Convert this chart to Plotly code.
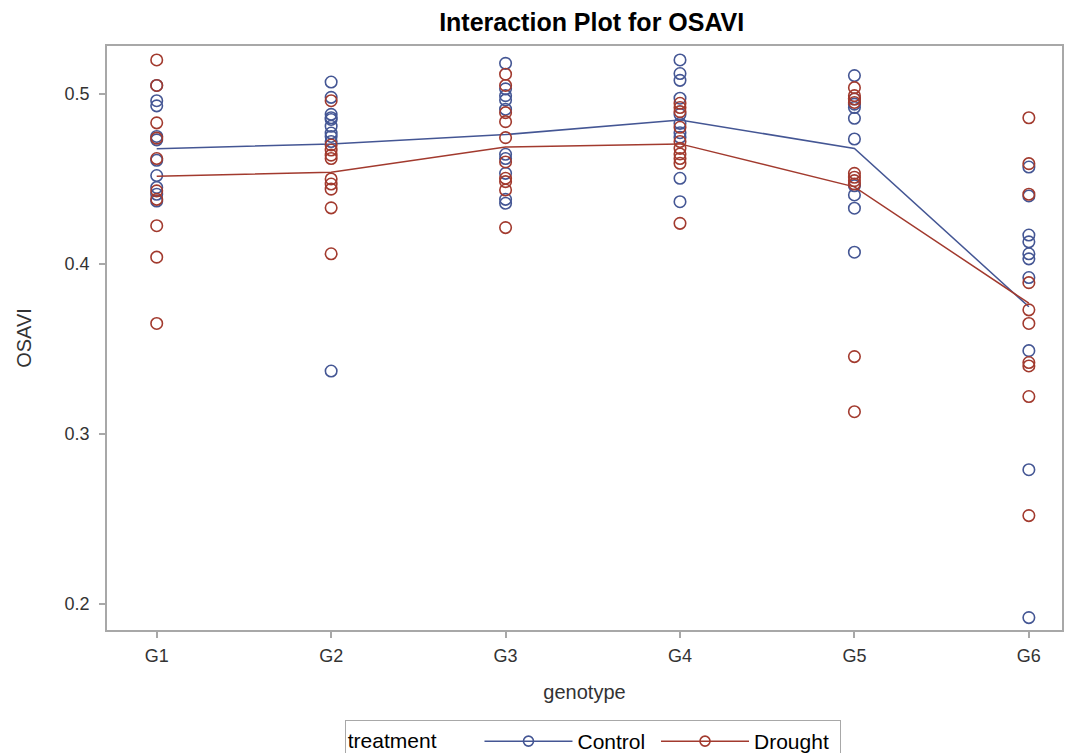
import plotly.graph_objects as go

genotypes = ["G1", "G2", "G3", "G4", "G5", "G6"]

control = {
    "G1": [0.505, 0.496, 0.493, 0.475, 0.473, 0.461, 0.452, 0.445, 0.441, 0.437],
    "G2": [0.507, 0.498, 0.488, 0.486, 0.485, 0.481, 0.477, 0.475, 0.472, 0.337],
    "G3": [0.518, 0.503, 0.499, 0.4965, 0.491, 0.4645, 0.462, 0.4533, 0.438, 0.4357],
    "G4": [0.520, 0.512, 0.508, 0.4975, 0.488, 0.4827, 0.4772, 0.4745, 0.4504, 0.4366],
    "G5": [0.5108, 0.497, 0.494, 0.492, 0.4857, 0.4735, 0.446, 0.4406, 0.4328, 0.4069],
    "G6": [0.457, 0.440, 0.417, 0.413, 0.406, 0.403, 0.392, 0.349, 0.279, 0.192],
}
drought = {
    "G1": [0.520, 0.505, 0.483, 0.474, 0.462, 0.443, 0.438, 0.4225, 0.404, 0.365],
    "G2": [0.496, 0.470, 0.467, 0.464, 0.462, 0.450, 0.447, 0.444, 0.433, 0.406],
    "G3": [0.5116, 0.505, 0.489, 0.4837, 0.4743, 0.460, 0.4504, 0.4484, 0.4435, 0.4214],
    "G4": [0.4945, 0.492, 0.4896, 0.4804, 0.472, 0.468, 0.4647, 0.462, 0.4592, 0.4239],
    "G5": [0.5037, 0.499, 0.497, 0.495, 0.4533, 0.451, 0.449, 0.447, 0.3455, 0.3131],
    "G6": [0.486, 0.459, 0.441, 0.389, 0.373, 0.365, 0.342, 0.340, 0.322, 0.252],
}
y_ticks = [0.2, 0.3, 0.4, 0.5]

BLUE = "#445694"
RED = "#A23A2E"
FONT = "Arial, Liberation Sans, sans-serif"
AXCOL = "#a8a8a8"

fig = go.Figure()

for name, data, col in [("Control", control, BLUE), ("Drought", drought, RED)]:
    xs, ys = [], []
    for g in genotypes:
        xs += [g] * len(data[g])
        ys += data[g]
    fig.add_trace(go.Scatter(
        x=xs, y=ys, mode="markers", showlegend=False, hoverinfo="skip",
        marker=dict(symbol="circle-open", size=11.5, color=col, line=dict(width=1.6, color=col)),
    ))
    means = [sum(data[g]) / len(data[g]) for g in genotypes]
    fig.add_trace(go.Scatter(
        x=genotypes, y=means, mode="lines", showlegend=False,
        line=dict(color=col, width=1.5),
    ))
    fig.add_trace(go.Scatter(
        x=[None], y=[None], mode="lines+markers", name=name + " ",
        line=dict(color=col, width=1.5),
        marker=dict(symbol="circle-open", size=10, color=col, line=dict(width=1.6, color=col)),
    ))

fig.update_layout(
    width=1069, height=753,
    margin=dict(l=107, r=7, t=46, b=123, autoexpand=False),
    paper_bgcolor="white", plot_bgcolor="white",
    font=dict(family=FONT, color="#333333", size=18),
    title=dict(text="<b>Interaction Plot for OSAVI</b>", x=0.5535, xanchor="center",
               y=0.971, yanchor="middle", font=dict(family=FONT, size=25, color="black")),
    legend=dict(orientation="h", x=0.5545, xanchor="center", xref="container",
                y=(753 - 720) / 753, yanchor="top", yref="container",
                bordercolor=AXCOL, borderwidth=1, itemwidth=88,
                title=dict(text="treatment      ", side="left", font=dict(size=21, color="black")),
                font=dict(size=21, color="black"), tracegroupgap=0),
    xaxis=dict(type="category", categoryorder="array", categoryarray=genotypes,
               range=[-0.285, 5.19], showline=True, linecolor=AXCOL, linewidth=1.5, mirror=True,
               ticks="outside", ticklen=6, tickcolor=AXCOL, tickwidth=1.5,
               showgrid=False, zeroline=False, automargin=False, ticklabelstandoff=3,
               tickfont=dict(size=18, color="#333333"),
               title=dict(text="genotype", font=dict(size=20, color="#333333"), standoff=20)),
    yaxis=dict(range=[0.1847, 0.5282], tickvals=y_ticks, ticktext=[f"{v:.1f}" for v in y_ticks],
               showline=True, linecolor=AXCOL, linewidth=1.5, mirror=True,
               ticks="outside", ticklen=6, tickcolor=AXCOL, tickwidth=1.5,
               showgrid=False, zeroline=False, automargin=False, ticklabelstandoff=6,
               tickfont=dict(size=18, color="#333333"),
               title=dict(text="OSAVI", font=dict(size=20, color="#333333"), standoff=28)),
)

fig.write_html("out.html", config={"displayModeBar": False},
               post_script="document.body.style.margin='0px';")
